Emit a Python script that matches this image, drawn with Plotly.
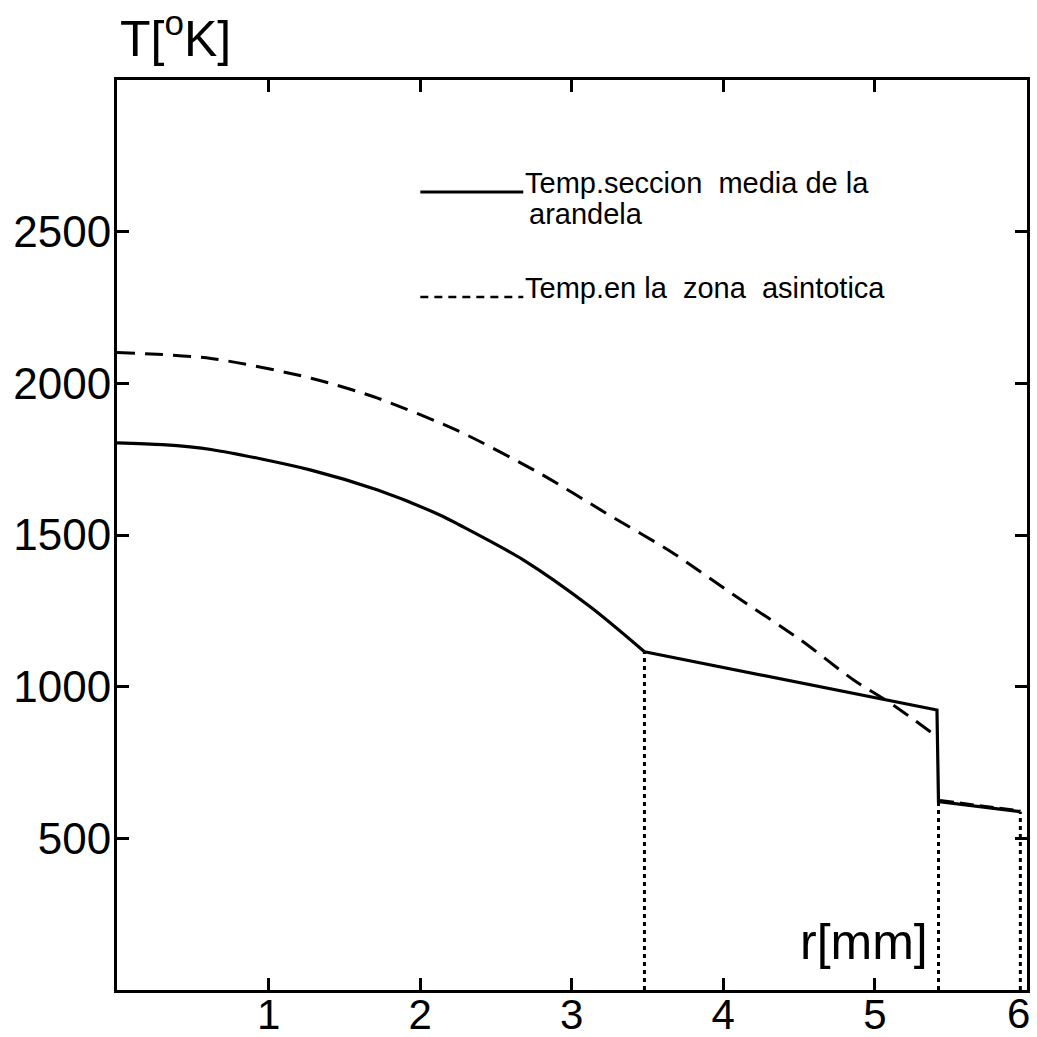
import plotly.graph_objects as go

# ---- data ----
r_seccion = [0.0, 0.30, 0.62, 1.28, 1.72, 2.13, 2.26, 2.68, 3.12, 3.48, 5.41, 5.42, 5.96]
T_seccion = [1804, 1798, 1782, 1714, 1648, 1566, 1533, 1418, 1264, 1115, 923, 621, 588]

r_asint = [0.0, 0.62, 1.28, 1.72, 2.26, 2.79, 3.23, 3.67, 4.07, 4.51, 4.86, 5.12, 5.38, 5.43, 5.96]
T_asint = [2102, 2082, 2017, 1951, 1841, 1703, 1571, 1440, 1302, 1154, 1022, 940, 846, 625, 590]

r_cortes = [3.48, 5.42, 5.96]
T_cortes = [1115, 621, 588]

x_ticks = [1, 2, 3, 4, 5, 6]
x_ticktext = ["1", "2", "3", "4", "5", ""]   # the last label is drawn just inside the edge
x_last_label = "6"
y_ticks = [500, 1000, 1500, 2000, 2500]

legend_texts = ["Temp.seccion\u00a0 media de la", "arandela", "Temp.en la\u00a0 zona\u00a0 asintotica"]

FONT = "Liberation Sans, Arial, sans-serif"
INK = "#000000"

# index where the smooth part of each curve ends
k_sec = r_seccion.index(3.48)
k_as = r_asint.index(5.38)

# vertical dotted lines built from the cut data
vx, vy = [], []
for r, t in zip(r_cortes, T_cortes):
    vx += [r, r, None]
    vy += [0, t, None]

fig = go.Figure()
fig.add_trace(go.Scatter(x=vx, y=vy, mode="lines", showlegend=False,
                         line=dict(color=INK, width=3, dash="4px,4px")))
# asymptotic zone (dashed): smooth part, then the outer segment
fig.add_trace(go.Scatter(x=r_asint[:k_as + 1], y=T_asint[:k_as + 1], mode="lines",
                         showlegend=False,
                         line=dict(color=INK, width=3, dash="18px,10px",
                                   shape="spline", smoothing=0.8)))
fig.add_trace(go.Scatter(x=r_asint[k_as + 1:], y=T_asint[k_as + 1:], mode="lines",
                         showlegend=False,
                         line=dict(color=INK, width=3, dash="14px,6px")))
# mid-section temperature (solid): smooth part, then straight segments
fig.add_trace(go.Scatter(x=r_seccion[:k_sec + 1], y=T_seccion[:k_sec + 1], mode="lines",
                         showlegend=False,
                         line=dict(color=INK, width=3.2, shape="spline", smoothing=0.8)))
fig.add_trace(go.Scatter(x=r_seccion[k_sec:], y=T_seccion[k_sec:], mode="lines",
                         showlegend=False, line=dict(color=INK, width=3.2)))

axis_common = dict(showline=True, linecolor=INK, linewidth=3, mirror="allticks",
                   ticks="inside", ticklen=12, tickwidth=3, tickcolor=INK,
                   showgrid=False, zeroline=False, fixedrange=True, automargin=False,
                   ticklabeloverflow="allow")

fig.update_xaxes(range=[0, 6.004], tickvals=x_ticks, ticktext=x_ticktext,
                 tickfont=dict(family=FONT, size=42, color=INK), ticklabelstandoff=-14,
                 **axis_common)
fig.update_yaxes(range=[0, 3000], tickvals=y_ticks, ticktext=[str(v) for v in y_ticks],
                 tickfont=dict(family=FONT, size=44, color=INK), ticklabelstandoff=-6,
                 **axis_common)

# legend drawn in paper coordinates
def px2x(px):
    return (px - 116.5) / 910.5

def py2y(py):
    return (990 - py) / 910

shapes = [
    dict(type="line", xref="paper", yref="paper", x0=px2x(420), x1=px2x(523),
         y0=py2y(192), y1=py2y(192), line=dict(color=INK, width=3)),
    dict(type="line", xref="paper", yref="paper", x0=px2x(420), x1=px2x(523),
         y0=py2y(297), y1=py2y(297), line=dict(color=INK, width=2.5, dash="8px,6px")),
]

annotations = [
    dict(text=legend_texts[0], x=px2x(523), y=py2y(183), xref="paper", yref="paper",
         xanchor="left", yanchor="middle", showarrow=False,
         font=dict(family=FONT, size=29, color=INK)),
    dict(text=legend_texts[1], x=px2x(527), y=py2y(214), xref="paper", yref="paper",
         xanchor="left", yanchor="middle", showarrow=False,
         font=dict(family=FONT, size=29, color=INK)),
    dict(text=legend_texts[2], x=px2x(523), y=py2y(288), xref="paper", yref="paper",
         xanchor="left", yanchor="middle", showarrow=False,
         font=dict(family=FONT, size=29, color=INK)),
    dict(text="T[<sup>o</sup>K]", x=px2x(118), y=py2y(35), xref="paper", yref="paper",
         xanchor="left", yanchor="middle", showarrow=False,
         font=dict(family=FONT, size=50, color=INK)),
    dict(text="r[mm]", x=px2x(930), y=py2y(942), xref="paper", yref="paper",
         xanchor="right", yanchor="middle", showarrow=False,
         font=dict(family=FONT, size=50, color=INK)),
    dict(text=x_last_label, x=px2x(1032), y=py2y(1014), xref="paper", yref="paper",
         xanchor="right", yanchor="middle", showarrow=False,
         font=dict(family=FONT, size=42, color=INK)),
]

fig.update_layout(width=1037, height=1037,
                  margin=dict(l=116.5, r=10, t=80, b=47, pad=0),
                  paper_bgcolor="white", plot_bgcolor="white",
                  shapes=shapes, annotations=annotations, showlegend=False)

fig.write_html("out.html", config={"displayModeBar": False})
